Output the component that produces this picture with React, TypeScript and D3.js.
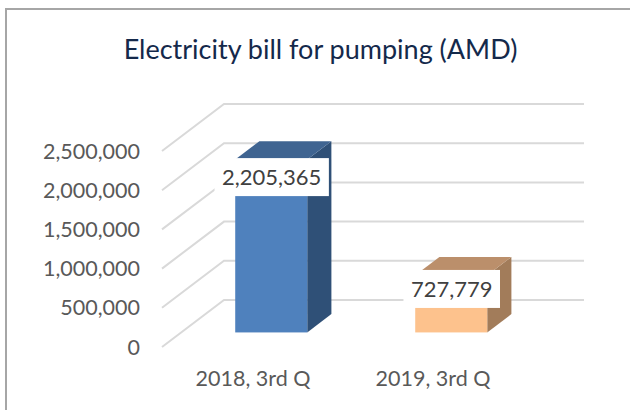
import React, { useEffect, useRef } from "react";
import * as d3 from "d3";

const title = "Electricity bill for pumping (AMD)";
const categories = ["2018, 3rd Q", "2019, 3rd Q"];
const values = [2205365, 727779];
const yTicks = [0, 500000, 1000000, 1500000, 2000000, 2500000];
const frontColors = ["#4f81bd", "#fdc28d"];
const topColors = ["#3f6491", "#bb8f6b"];
const sideColors = ["#2f5077", "#a27c5a"];

const depthX = 62;
const depthY = 47;
const barFront = 0.31;
const barBack = 0.7;

export default function App() {
  const ref = useRef<SVGSVGElement>(null);

  useEffect(() => {
    const svg = d3.select(ref.current);
    svg.selectAll("*").remove();

    const font = "Lato, Carlito, sans-serif";
    const x = d3.scaleBand().domain(categories).range([162, 522]).paddingInner(0.6).paddingOuter(0.3);
    const y = d3.scaleLinear().domain([0, 2500000]).range([347, 151]);
    const fmt = d3.format(",");

    svg.append("rect").attr("x", 6).attr("y", 9).attr("width", 640).attr("height", 420)
      .attr("fill", "#fff").attr("stroke", "#a6a6a6").attr("stroke-width", 2);

    svg.append("text").attr("x", 320.5).attr("y", 59).attr("text-anchor", "middle")
      .attr("font-family", font).attr("font-size", 27).attr("fill", "#14294b").text(title);

    // floor/wall gridlines
    svg.append("g").selectAll("path").data(yTicks).join("path")
      .attr("d", d => `M162,${y(d)}L${162 + depthX},${y(d) - depthY}H584`)
      .attr("fill", "none").attr("stroke", "#d9d9d9").attr("stroke-width", 2);

    svg.append("g").selectAll("text").data(yTicks).join("text")
      .attr("x", 140).attr("y", d => y(d) + 7.5).attr("text-anchor", "end")
      .attr("font-family", font).attr("font-size", 21.5).attr("fill", "#595959")
      .text(d => fmt(d));

    svg.append("g").selectAll("text").data(categories).join("text")
      .attr("x", d => x(d)! + x.bandwidth() / 2 + 1).attr("y", 386).attr("text-anchor", "middle")
      .attr("font-family", font).attr("font-size", 21.5).attr("fill", "#595959")
      .text(d => d);

    // 3d bars
    const bars = svg.append("g").selectAll("g").data(categories).join("g");
    const left = (d: string) => x(d)! + barFront * depthX;
    const right = (d: string) => left(d) + x.bandwidth();
    const dx = (barBack - barFront) * depthX;
    const dy = (barBack - barFront) * depthY;
    const floorY = y(0) - barFront * depthY;
    const topY = (i: number) => y(values[i]) - barFront * depthY;

    bars.append("path")
      .attr("d", (d, i) => `M${right(d)},${floorY}L${right(d) + dx},${floorY - dy}V${topY(i) - dy}L${right(d)},${topY(i)}Z`)
      .attr("fill", (d, i) => sideColors[i]);
    bars.append("path")
      .attr("d", (d, i) => `M${left(d)},${topY(i)}L${left(d) + dx},${topY(i) - dy}H${right(d) + dx}L${right(d)},${topY(i)}Z`)
      .attr("fill", (d, i) => topColors[i]);
    bars.append("rect")
      .attr("x", d => left(d)).attr("y", (d, i) => topY(i))
      .attr("width", x.bandwidth()).attr("height", (d, i) => floorY - topY(i))
      .attr("fill", (d, i) => frontColors[i]);

    // data labels on white boxes
    const labels = svg.append("g").selectAll("g").data(values).join("g")
      .attr("transform", (d, i) => `translate(${left(categories[i]) + x.bandwidth() / 2 + 0.5},${y(d) + (i === 0 ? 3 : -1)})`);
    const boxes = labels.append("rect").attr("fill", "#fff");
    labels.append("text").attr("text-anchor", "middle").attr("y", 8)
      .attr("font-family", font).attr("font-size", 22).attr("fill", "#404040")
      .text(d => fmt(d));
    boxes.each(function () {
      const t = (this as SVGRectElement).parentNode!.querySelector("text") as SVGTextElement;
      const w = t.getBBox().width + 15;
      d3.select(this).attr("x", -w / 2).attr("y", -19).attr("width", w).attr("height", 38);
    });
  }, []);

  return <svg ref={ref} width={630} height={410} style={{ position: "absolute", left: 0, top: 0 }} />;
}
